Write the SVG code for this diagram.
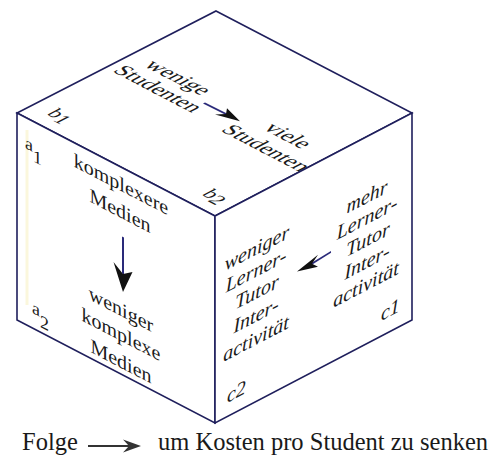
<svg xmlns="http://www.w3.org/2000/svg" width="496" height="458" viewBox="0 0 496 458">
  <style>
    .edge { fill: #ffffff; stroke: #1f1f5c; stroke-width: 1.6; stroke-linejoin: miter; }
    .t { font-family: "Liberation Serif", "Times New Roman", serif; font-size: 20px; fill: #1a1a1a; }
    .c { text-anchor: middle; }
    .it { font-style: italic; }
    .lbl { font-family: "Liberation Serif", "Times New Roman", serif; font-size: 18px; fill: #1a1a1a; }
    .legend { font-family: "Liberation Serif", "Times New Roman", serif; font-size: 24.5px; fill: #1a1a1a; }
    .shaft { stroke: #2a2a7a; stroke-width: 2; fill: none; }
    .head { fill: #111111; stroke: none; }
  </style>
  <rect width="496" height="458" fill="#ffffff"/>

  <g id="face-top">
    <polygon class="edge" points="216,11 412,113 215,216 17,113"/>
    <g transform="matrix(1,0.52,-1,0.52,216,11)">
      <text class="t c" x="45" y="89">wenige</text>
      <text class="t c" x="46" y="110">Studenten</text>
      <text class="t c" x="156" y="90">viele</text>
      <text class="t c" x="157" y="113">Studenten</text>
      <text class="lbl" x="14" y="184">b<tspan dy="3">1</tspan></text>
      <text class="lbl" x="169" y="184">b<tspan dy="3">2</tspan></text>
    </g>
  </g>

  <g id="face-left">
    <polygon class="edge" points="17,113 215,216 215,423 17,320"/>
    <line x1="27" y1="130" x2="27" y2="305" stroke="#fbf7dc" stroke-width="3"/>
    <g transform="matrix(1,0.52,0,1,0,0)">
      <text class="t c" x="121" y="128">komplexere</text>
      <text class="t c" x="120" y="155">Medien</text>
      <text class="t c" x="121" y="253">weniger</text>
      <text class="t c" x="121" y="278">komplexe</text>
      <text class="t c" x="121" y="305">Medien</text>
      <text class="lbl" x="25" y="135">a<tspan dy="9">1</tspan></text>
      <text class="lbl" x="32" y="296">a<tspan dy="10">2</tspan></text>
    </g>
  </g>

  <g id="face-right">
    <polygon class="edge" points="215,216 412,113 412,320 215,423"/>
    <g transform="matrix(1,-0.52,0,1,0,0)">
      <text class="t c it" x="257" y="388">weniger</text>
      <text class="t c it" x="256" y="410">Lerner-</text>
      <text class="t c it" x="257" y="432">Tutor</text>
      <text class="t c it" x="256" y="455">Inter-</text>
      <text class="t c it" x="256" y="478">activität</text>
      <text class="t c it" x="367" y="394">mehr</text>
      <text class="t c it" x="367" y="415">Lerner-</text>
      <text class="t c it" x="368" y="437">Tutor</text>
      <text class="t c it" x="367" y="459">Inter-</text>
      <text class="t c it" x="366" y="481">activität</text>
      <text class="t it" x="381" y="519">c1</text>
      <text class="t it" x="227" y="521">c2</text>
    </g>
  </g>

  <g id="connectors">
    <g id="arrow-top" transform="matrix(1,0.52,-1,0.52,216,11)">
      <line class="shaft" x1="82.5" y1="94.5" x2="105" y2="94"/>
      <polygon class="head" points="118,94 99,88 104,94 99,100"/>
    </g>
    <g id="arrow-left" transform="matrix(1,0.52,0,1,0,0)">
      <line class="shaft" x1="123" y1="173" x2="123" y2="210"/>
      <polygon class="head" points="123,228 113.5,203 123,210 132.5,203"/>
    </g>
    <g id="arrow-right" transform="matrix(1,-0.52,0,1,0,0)">
      <line class="shaft" x1="331" y1="424" x2="311" y2="426"/>
      <polygon class="head" points="297,426 318,420 312,426 318,432"/>
    </g>
    <g id="arrow-legend">
      <line x1="88" y1="446" x2="130" y2="446" stroke="#333333" stroke-width="2.2"/>
      <polygon points="141,446 123,439.5 129,446 123,452.5" fill="#333333"/>
    </g>
  </g>

  <g id="legend">
    <text class="legend" x="22" y="450">Folge</text>
    <text class="legend" x="158" y="450">um Kosten pro Student zu senken</text>
  </g>
</svg>
